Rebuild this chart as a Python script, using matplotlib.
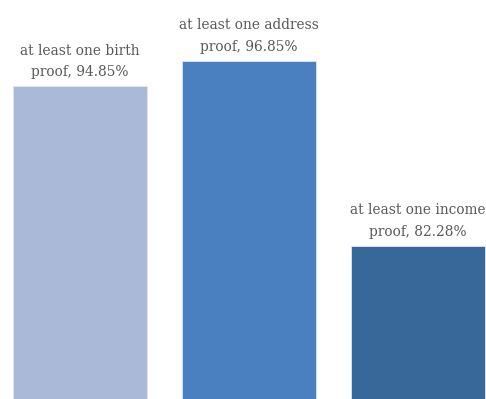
import matplotlib.pyplot as plt

# share of applicants holding each kind of proof
categories = ["at least one birth\nproof", "at least one address\nproof", "at least one income\nproof"]
shares = [94.85, 96.85, 82.28]
colors = ["#ABB9D8", "#4A80BF", "#376899"]

fig = plt.figure(figsize=(4.86, 3.99), dpi=100)
ax = fig.add_axes([0, 0, 1, 1])

positions = range(len(shares))
bars = ax.bar(positions, shares, width=0.79, color=colors,
              edgecolor="#dfe6f2", linewidth=0.6)

for x, name, val in zip(positions, categories, shares):
    ax.annotate(f"{name}, {val:.2f}%", (x, val), xytext=(0, 5),
                textcoords="offset points", ha="center", va="bottom",
                fontsize=9.9, family="DejaVu Serif", color="#595959",
                linespacing=1.7)

ax.set_xlim(-0.473, 2.402)
ax.set_ylim(70.26, 101.63)
ax.axis("off")

fig.savefig("out.png", dpi=100)
